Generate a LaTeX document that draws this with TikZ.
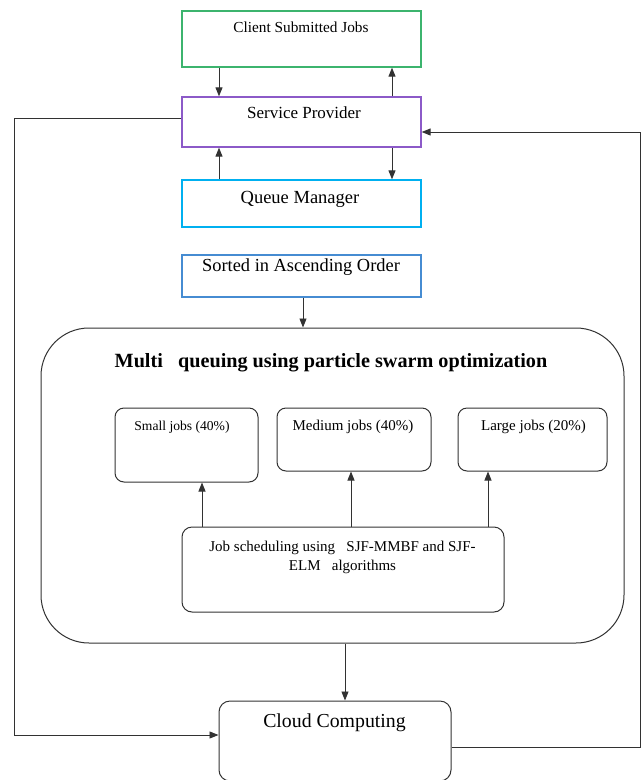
\documentclass[tikz,border=0pt]{standalone}
\usepackage{fontspec}
\setmainfont{Liberation Serif}
\usetikzlibrary{arrows.meta}
\definecolor{cgreen}{RGB}{60,180,110}
\definecolor{cpurple}{RGB}{140,90,200}
\definecolor{ccyan}{RGB}{0,176,240}
\definecolor{cblue}{RGB}{70,140,210}
\definecolor{cline}{RGB}{50,50,50}
\tikzset{
  sqbox/.style={draw, line width=1.3pt, minimum width=239pt, inner sep=0pt},
  rbox/.style={draw=cline, line width=1pt, inner sep=0pt},
  lbl/.style={inner sep=0pt, text=black},
  arr/.style={draw=cline, line width=0.9pt, -{Triangle[length=9pt,width=7pt]}},
  conn/.style={draw=cline, line width=0.9pt},
}
\newcommand{\fs}[1]{\fontsize{#1}{#1}\selectfont}
\begin{document}
\begin{tikzpicture}[x=1pt,y=-1pt]
\useasboundingbox (0,0) rectangle (641,780);
% top boxes
\node[sqbox, draw=cgreen, minimum height=56pt] (client) at (301.5,39) {};
\node[sqbox, draw=cpurple, minimum height=50pt] (sp) at (301.5,122) {};
\node[sqbox, draw=ccyan, minimum height=47pt] (qm) at (301.5,203.5) {};
\node[sqbox, draw=cblue, minimum height=42pt] (sorted) at (301.5,276) {};
\node[lbl, font=\fs{15.3}] (tclient) at (301,27) {Client Submitted Jobs};
\node[lbl, font=\fs{17}] (tsp) at (304,113) {Service Provider};
\node[lbl, font=\fs{18.5}] (tqm) at (300,199) {Queue Manager};
\node[lbl, font=\fs{18.4}] (tsorted) at (301,267) {Sorted in Ascending Order};
% big box
\node[rbox, rounded corners=48pt, minimum width=583pt, minimum height=315pt] (big) at (332.5,485.5) {};
\node[lbl, font=\bfseries\fs{20.2}] (title) at (331,363) {Multi\ \ \ queuing using particle swarm optimization};
% inner boxes
\node[rbox, rounded corners=9pt, minimum width=143pt, minimum height=74pt] (small) at (186.5,445) {};
\node[rbox, rounded corners=9pt, minimum width=154pt, minimum height=63pt] (medium) at (354,439.5) {};
\node[rbox, rounded corners=9pt, minimum width=149pt, minimum height=63pt] (large) at (532.5,439.5) {};
\node[lbl, font=\fs{13.6}] (tsmall) at (182,427) {Small jobs (40\%)};
\node[lbl, font=\fs{15}] (tmedium) at (353,427) {Medium jobs (40\%)};
\node[lbl, font=\fs{15}] (tlarge) at (533.5,427) {Large jobs (20\%)};
\node[rbox, rounded corners=10pt, minimum width=322pt, minimum height=85pt] (job) at (343,569.5) {};
\node[lbl, font=\fs{15}, align=center] (tjob) at (342.5,557.5) {Job scheduling using\ \ \ SJF-MMBF and SJF-\\[4pt]ELM\ \ \ algorithms};
% cloud
\node[rbox, rounded corners=11pt, minimum width=232pt, minimum height=80pt] (cloud) at (335,741) {};
\node[lbl, font=\fs{19.8}] (tcloud) at (334.5,723) {Cloud Computing};
% coordinates for arrow columns
\coordinate (xl) at (219,0);
\coordinate (xr) at (392,0);
\coordinate (xs) at (303,0);
\coordinate (xc) at (345,0);
\coordinate (xa) at (202,0);
\coordinate (xb) at (351,0);
\coordinate (xd) at (488,0);
\coordinate (lft) at (14,0);
\coordinate (rgt) at (640,0);
% arrows top
\draw[arr] (client.south -| xl) -- (sp.north -| xl);
\draw[arr] (sp.north -| xr) -- (client.south -| xr);
\draw[arr] (qm.north -| xl) -- (sp.south -| xl);
\draw[arr] (sp.south -| xr) -- (qm.north -| xr);
\draw[arr] (sorted.south -| xs) -- (big.north -| xs);
\draw[arr] (big.south -| xc) -- (cloud.north -| xc);
\draw[arr] (job.north -| xa) -- (small.south -| xa);
\draw[arr] (job.north -| xb) -- (medium.south -| xb);
\draw[arr] (job.north -| xd) -- (large.south -| xd);
% loops
\draw[conn] ([yshift=4pt]sp.west) -- ([yshift=4pt]sp.west -| lft) -- ([yshift=6pt]cloud.west -| lft);
\draw[arr] ([yshift=6pt]cloud.west -| lft) -- ([yshift=6pt]cloud.west);
\draw[conn] ([yshift=-6pt]cloud.east) -- ([yshift=-6pt]cloud.east -| rgt) -- ([yshift=-10pt]sp.east -| rgt);
\draw[arr] ([yshift=-10pt]sp.east -| rgt) -- ([yshift=-10pt]sp.east);
\end{tikzpicture}
\end{document}
